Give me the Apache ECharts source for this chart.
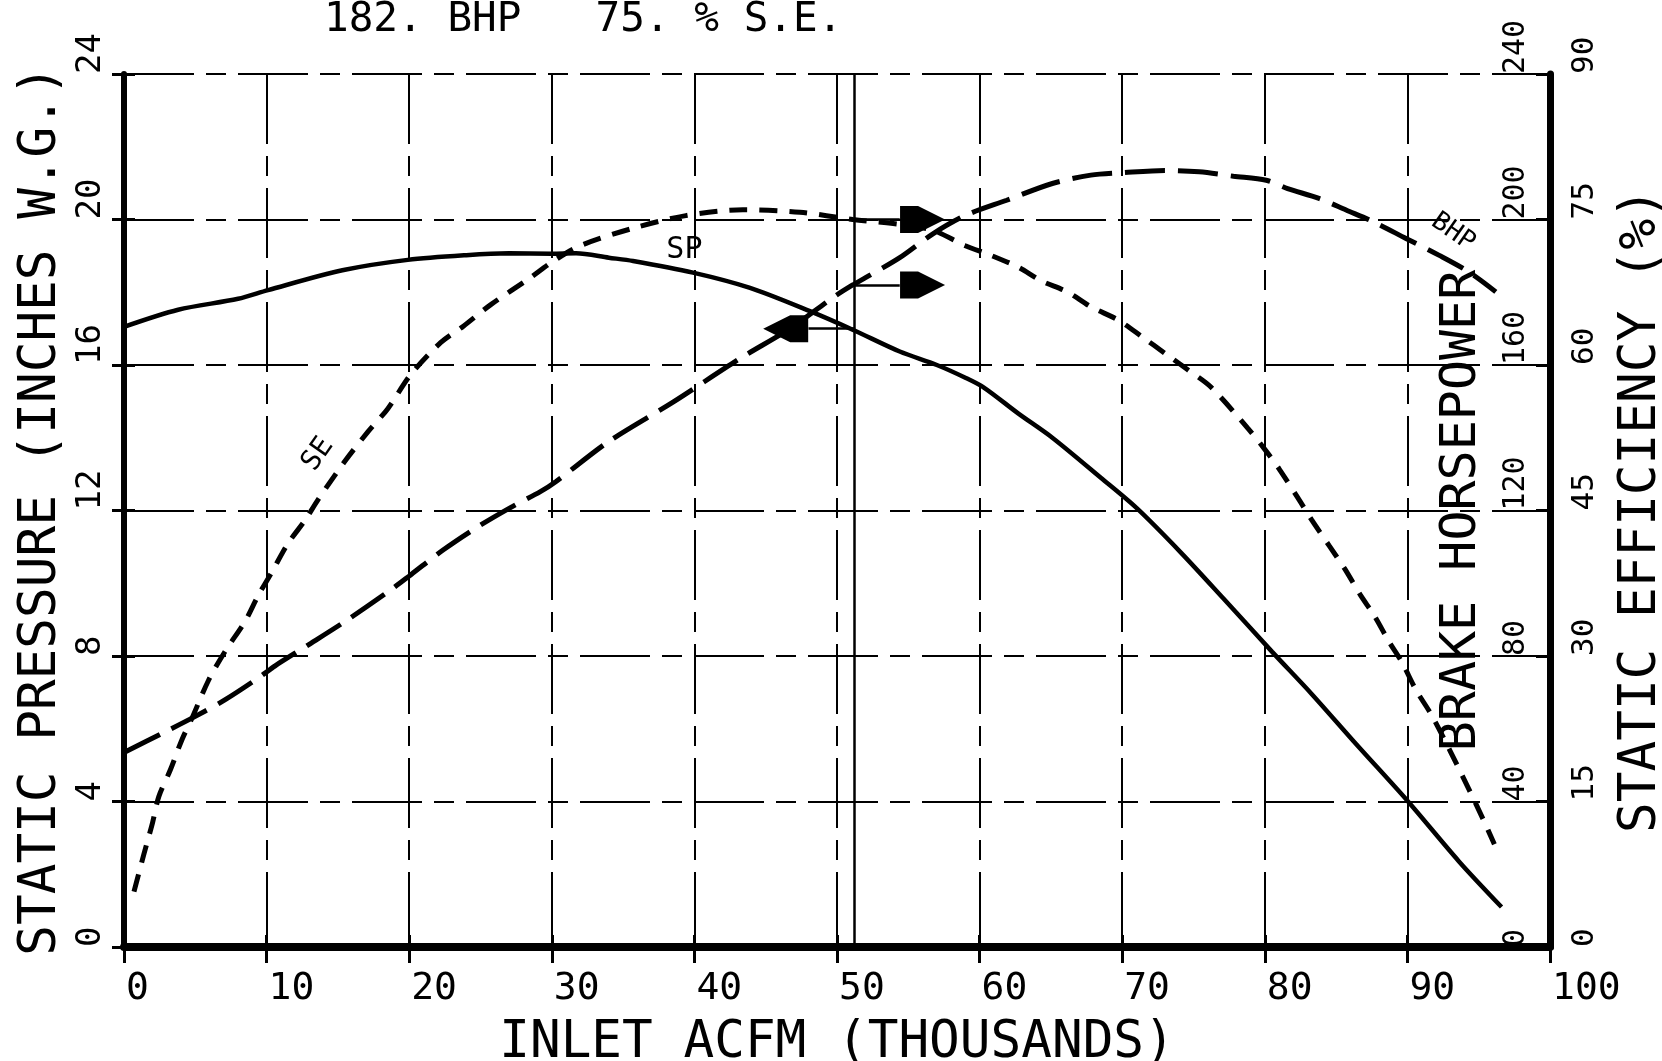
<!DOCTYPE html>
<html><head><meta charset="utf-8">
<script src="https://cdn.jsdelivr.net/npm/echarts@6/dist/echarts.min.js"></script>
<style>html,body{margin:0;padding:0;background:#fff}#c{width:1662px;height:1061px}</style>
</head><body><div id="c"></div>
<script>
// ---- data ----
const chartTitle = '182. BHP   75. % S.E.';
const xName = 'INLET ACFM (THOUSANDS)';
const spName = 'STATIC PRESSURE (INCHES W.G.)';
const bhpName = 'BRAKE HORSEPOWER';
const seName = 'STATIC EFFICIENCY (%)';

// [ACFM thousands, static pressure in. W.G.]
const spData = [[0,17.05],[3.8,17.52],[8,17.82],[10.1,18.06],[15.4,18.61],[19.9,18.89],[24,19.02],[27,19.07],[30,19.06],[31.7,19.07],[34,18.95],[35.7,18.86],[39.9,18.54],[43.9,18.12],[48.1,17.48],[51.1,16.97],[54.4,16.37],[57,16.0],[59,15.65],[60.3,15.38],[62.7,14.67],[65.1,14.0],[68.5,12.9],[71,12.07],[74.1,10.85],[77.1,9.58],[80.5,8.12],[83.3,6.95],[86.4,5.58],[90,4.02],[93.6,2.36],[96.6,1.1]];
// [ACFM thousands, brake horsepower]
const bhpData = [[0,53.5],[2.7,58.8],[5,63.4],[7.1,68],[9.4,73.9],[10.6,77.3],[12.7,82.5],[15.5,89.5],[18.5,97.6],[20.1,102.3],[22.4,109.2],[24.8,115.5],[27.1,120.8],[29.2,125.2],[30.3,128],[34,139],[38.5,149.8],[43.2,161.8],[46.7,170],[49.7,178.5],[51.1,182],[52,184],[54.4,189.5],[56.7,196],[59,201.1],[61.9,205.3],[65.1,209.9],[67.8,212.2],[70.1,212.9],[73,213.5],[75.4,213.1],[77.8,211.9],[80.1,210.8],[81.6,208.5],[83.8,205.8],[85.7,202.6],[87.6,199.4],[89.9,194.8],[92.2,190.2],[94.3,185.6],[96.2,180.1]];
// [ACFM thousands, static efficiency %]
const seData = [[0.7,5.7],[1.4,9.6],[2.0,12.8],[2.44,15.5],[3.26,18.3],[4.07,21.4],[4.77,23.6],[5.93,27.5],[7.1,30.5],[8.5,33.6],[9.4,36.2],[10.35,38.6],[11.5,41.6],[12.7,44],[13.6,46.1],[15.5,50.1],[17.1,53.1],[18.5,55.5],[20.1,59],[22.2,62.3],[23.8,64],[25.7,66.2],[28.5,69],[30,70.6],[32,72.3],[35.7,74.1],[39.4,75.4],[43.4,76],[47.4,75.75],[51.1,75],[54.4,74.5],[56.7,73.9],[59,72.3],[60.8,71.3],[62.7,70.1],[64.3,68.7],[66.2,67.5],[67.8,66],[69.7,64.65],[71.4,62.9],[73,61.2],[74.6,59.5],[76.2,57.75],[78.8,53.5],[80,51.3],[81,49.3],[82.3,46.35],[83.3,44],[84.5,41.4],[85.6,39],[86.7,36.3],[87.7,34.1],[88.7,31.5],[89.6,29.4],[90.6,26.5],[91.7,23.9],[93,20.2],[94.3,16.3],[95.3,13.2],[96.1,10.6]];

// operating point
const opAcfm = 51.2, opSp = 17.0, opBhp = 182, opSe = 75;
// arrow marks (x in ACFM thousands)
const spArrowX = 46.4, spArrowBase = 48.0;
const rightArrowX = 56.0, rightArrowBase = 54.4;

// curve labels: [text, x, value]
const spLabel = ['SP', 39.3, 19.15];
const seLabel = ['SE', 13.6, 50.8];
const bhpLabel = ['BHP', 93.2, 196.5];

const xMin = 0, xMax = 100, xStep = 10;
const spMin = 0, spMax = 24, spStep = 4;
const bhpMin = 0, bhpMax = 240, bhpStep = 40;
const seMin = 0, seMax = 90, seStep = 15;

// ---- chart ----
const F = 'DejaVu Sans Mono';
const K = '#000';
const gridDash = [70, 12, 20, 12];
const arrowPath = 'path://M0,0 L18,0 L45,13.5 L18,27 L0,27 Z';
const chart = echarts.init(document.getElementById('c'), null, {renderer: 'canvas'});

const yLabel = (size, margin, inside) => ({show: true, inside: !!inside, rotate: 90, align: 'left', verticalAlign: 'middle',
  margin: margin, fontFamily: F, fontSize: size, color: K});
const txtLabel = (size, rot) => ({show: true, position: 'inside', formatter: '{b}', rotate: rot,
  fontFamily: F, fontSize: size, color: K, opacity: 1});

chart.setOption({
  animation: false,
  backgroundColor: '#fff',
  title: {text: chartTitle, left: 324, top: 0, padding: 0,
    textStyle: {fontFamily: F, fontSize: 41, fontWeight: 'normal', color: K}},
  grid: {left: 124, right: 112, top: 74, bottom: 114, containLabel: false, outerBoundsMode: 'none'},
  xAxis: [
    {type: 'value', min: xMin, max: xMax, interval: xStep, position: 'bottom',
      name: xName, nameLocation: 'middle', nameGap: 71, nameMoveOverlap: false,
      nameTextStyle: {fontFamily: F, fontSize: 51, color: K},
      axisLine: {show: true, onZero: false, lineStyle: {color: K, width: 8}},
      axisTick: {show: true, length: 16, lineStyle: {color: K, width: 3}},
      axisLabel: {fontFamily: F, fontSize: 38, color: K, margin: 23, align: 'left', padding: [0, 0, 0, 2]},
      splitLine: {show: true, lineStyle: {color: K, width: 2, type: gridDash}}},
    {type: 'value', min: xMin, max: xMax, interval: xStep, position: 'bottom',
      axisLine: {show: false}, axisLabel: {show: false}, splitLine: {show: false},
      axisTick: {show: true, inside: true, length: 12, lineStyle: {color: K, width: 3}}}
  ],
  yAxis: [
    {type: 'value', min: spMin, max: spMax, interval: spStep, position: 'left',
      name: spName, nameLocation: 'middle', nameGap: 57, nameRotate: 90, nameMoveOverlap: false,
      nameTextStyle: {fontFamily: F, fontSize: 51, color: K},
      axisLine: {show: true, onZero: false, lineStyle: {color: K, width: 6}},
      axisTick: {show: true, length: 12, lineStyle: {color: K, width: 3}},
      axisLabel: yLabel(34, 33),
      splitLine: {show: true, lineStyle: {color: K, width: 2, type: gridDash}}},
    {type: 'value', min: bhpMin, max: bhpMax, interval: bhpStep, position: 'right',
      name: bhpName, nameLocation: 'middle', nameGap: -113, nameRotate: 90, nameMoveOverlap: false,
      nameTextStyle: {fontFamily: F, fontSize: 50, color: K},
      axisLine: {show: true, onZero: false, lineStyle: {color: K, width: 7}},
      axisTick: {show: true, inside: true, length: 14, lineStyle: {color: K, width: 3}},
      axisLabel: yLabel(30, 34, true),
      splitLine: {show: false}},
    {type: 'value', min: seMin, max: seMax, interval: seStep, position: 'right',
      name: seName, nameLocation: 'middle', nameGap: 66, nameRotate: 90, nameMoveOverlap: false,
      nameTextStyle: {fontFamily: F, fontSize: 51, color: K},
      axisLine: {show: false},
      axisTick: {show: true, length: 8, lineStyle: {color: K, width: 3}},
      axisLabel: yLabel(31, 35),
      splitLine: {show: false}},
    {type: 'value', min: spMin, max: spMax, interval: spStep, position: 'left',
      axisLine: {show: false}, axisLabel: {show: false}, splitLine: {show: false},
      axisTick: {show: true, inside: true, length: 11, lineStyle: {color: K, width: 3}}}
  ],
  series: [
    {name: 'SP', type: 'line', xAxisIndex: 0, yAxisIndex: 0, data: spData, smooth: 0.3,
      symbol: 'none', lineStyle: {color: K, width: 4.5}, z: 5,
      markLine: {silent: true, symbol: 'none', animation: false, label: {show: false},
        lineStyle: {color: K, width: 2.5, type: 'solid'},
        data: [{xAxis: opAcfm}, [{coord: [spArrowBase, opSp]}, {coord: [opAcfm, opSp]}]]}},
    {name: 'BHP', type: 'line', xAxisIndex: 0, yAxisIndex: 1, data: bhpData, smooth: 0.3,
      symbol: 'none', lineStyle: {color: K, width: 5, type: [40, 13]}, z: 5,
      markLine: {silent: true, symbol: 'none', animation: false, label: {show: false},
        lineStyle: {color: K, width: 2.5, type: 'solid'},
        data: [[{coord: [opAcfm, opBhp]}, {coord: [rightArrowBase, opBhp]}]]}},
    {name: 'SE', type: 'line', xAxisIndex: 0, yAxisIndex: 2, data: seData, smooth: 0.3,
      symbol: 'none', lineStyle: {color: K, width: 5, type: [18, 12]}, z: 5,
      markLine: {silent: true, symbol: 'none', animation: false, label: {show: false},
        lineStyle: {color: K, width: 2.5, type: 'solid'},
        data: [[{coord: [opAcfm, opSe]}, {coord: [rightArrowBase, opSe]}]]}},
    {type: 'scatter', xAxisIndex: 0, yAxisIndex: 0, data: [[spArrowX, opSp]], symbol: arrowPath,
      symbolSize: [45, 27], symbolRotate: 180, itemStyle: {color: K, opacity: 1}, z: 6},
    {type: 'scatter', xAxisIndex: 0, yAxisIndex: 1, data: [[rightArrowX, opBhp]], symbol: arrowPath,
      symbolSize: [45, 27], itemStyle: {color: K, opacity: 1}, z: 6},
    {type: 'scatter', xAxisIndex: 0, yAxisIndex: 2, data: [[rightArrowX, opSe]], symbol: arrowPath,
      symbolSize: [45, 27], itemStyle: {color: K, opacity: 1}, z: 6},
    {type: 'scatter', xAxisIndex: 0, yAxisIndex: 0, symbolSize: 0, z: 7, itemStyle: {opacity: 1},
      data: [{value: [spLabel[1], spLabel[2]], name: spLabel[0]}], label: txtLabel(30, 0)},
    {type: 'scatter', xAxisIndex: 0, yAxisIndex: 2, symbolSize: 0, z: 7, itemStyle: {opacity: 1},
      data: [{value: [seLabel[1], seLabel[2]], name: seLabel[0]}], label: txtLabel(28, 55)},
    {type: 'scatter', xAxisIndex: 0, yAxisIndex: 1, symbolSize: 0, z: 7, itemStyle: {opacity: 1},
      data: [{value: [bhpLabel[1], bhpLabel[2]], name: bhpLabel[0]}], label: txtLabel(26, -35)}
  ]
});
</script></body></html>
